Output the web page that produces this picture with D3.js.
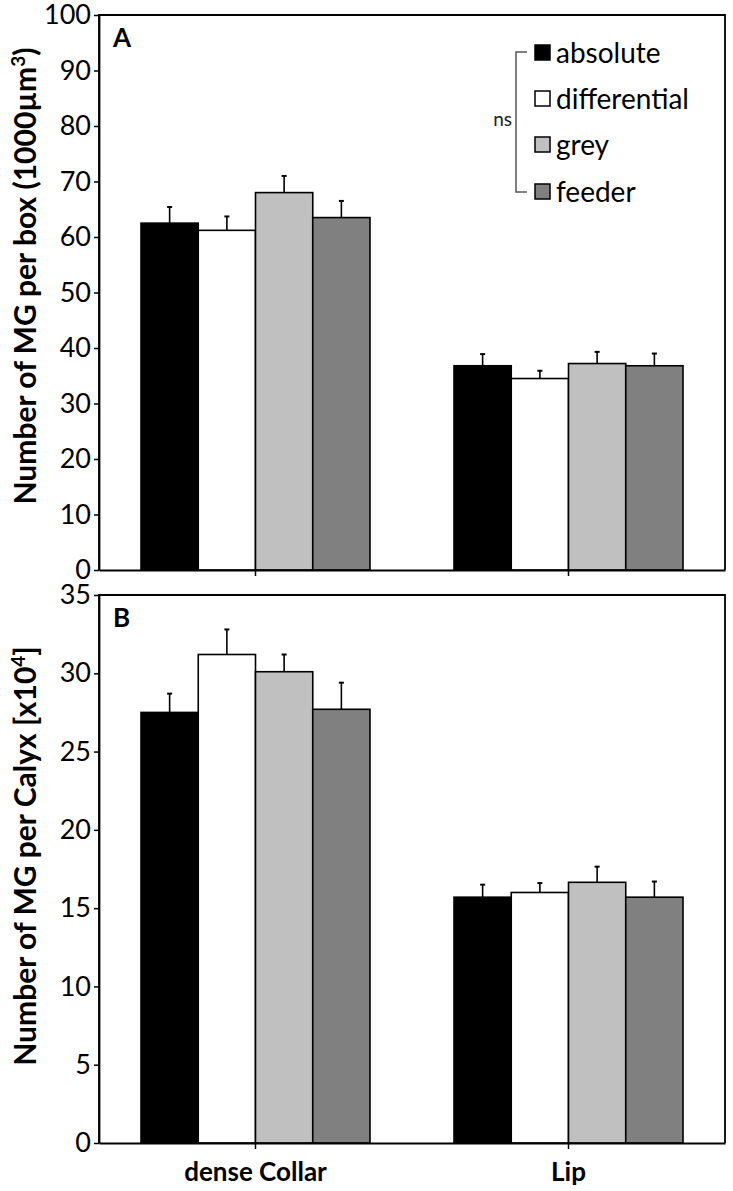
<!DOCTYPE html>
<html><head><meta charset="utf-8">
<script src="https://cdn.jsdelivr.net/npm/d3@7"></script>
<style>
body{margin:0;background:#fff;}
svg{display:block;font-family:Lato,"Open Sans",sans-serif;}
</style></head>
<body>
<svg id="c" width="733" height="1191"></svg>
<script>
const categories = ["dense Collar", "Lip"];
const series = ["absolute", "differential", "grey", "feeder"];
const seriesColors = ["#000000", "#ffffff", "#c0c0c0", "#808080"];
// Panel A: Number of MG per box (1000µm³)
const valuesA = [[62.5, 36.8], [61.2, 34.5], [68.0, 37.2], [63.5, 36.8]];
const errTopA = [[65.4, 38.9], [63.7, 35.9], [71.0, 39.3], [66.5, 39.0]];
// Panel B: Number of MG per Calyx [x10^4]
const valuesB = [[27.5, 15.7], [31.2, 16.0], [30.1, 16.65], [27.7, 15.7]];
const errTopB = [[28.7, 16.5], [32.8, 16.6], [31.2, 17.65], [29.4, 16.7]];
const ticksA = [0,10,20,30,40,50,60,70,80,90,100];
const ticksB = [0,5,10,15,20,25,30,35];

const svg = d3.select("#c");
const L = 99, R = 725;
const x0 = d3.scaleBand().domain(categories).range([L, R]).padding(0);
const groupW = 229;
const x1 = d3.scaleBand().domain(series).range([-groupW/2, groupW/2]).padding(0);
const color = d3.scaleOrdinal().domain(series).range(seriesColors);

function panel(cfg){
  const y = d3.scaleLinear().domain([0, cfg.max]).range([cfg.bottom, cfg.top]);
  const g = svg.append("g");
  series.forEach((s, si) => {
    categories.forEach((c, ci) => {
      const cx = x0(c) + x0.bandwidth()/2;
      const bx = cx + x1(s);
      const v = cfg.values[si][ci], e = cfg.err[si][ci];
      g.append("rect")
        .attr("x", bx).attr("y", y(v))
        .attr("width", x1.bandwidth()).attr("height", y(0) - y(v))
        .attr("fill", color(s)).attr("stroke", "#000").attr("stroke-width", 1.6);
      const mx = bx + x1.bandwidth()/2;
      g.append("line").attr("x1", mx).attr("x2", mx).attr("y1", y(v)).attr("y2", y(e))
        .attr("stroke", "#000").attr("stroke-width", 1.6);
      g.append("line").attr("x1", mx-2.5).attr("x2", mx+2.5).attr("y1", y(e)).attr("y2", y(e))
        .attr("stroke", "#000").attr("stroke-width", 2);
    });
  });
  g.append("path").attr("d", `M${L},${cfg.bottom}V${cfg.top}H${R}V${cfg.bottom}`)
    .attr("fill", "none").attr("stroke", "#000").attr("stroke-width", 1.8);
  const ya = g.append("g").attr("transform", `translate(${L},0)`)
    .call(d3.axisLeft(y).tickValues(cfg.ticks).tickSize(5).tickSizeOuter(0).tickPadding(3));
  ya.select(".domain").attr("stroke-width", 1.8);
  ya.selectAll(".tick line").attr("stroke-width", 1.5);
  ya.selectAll("text").attr("font-size", 27).attr("fill", "#000").attr("font-family", "Lato");
  const xa = g.append("g").attr("transform", `translate(0,${cfg.bottom})`)
    .call(d3.axisBottom(x0).tickSize(6).tickSizeOuter(0).tickPadding(14));
  xa.select(".domain").attr("stroke-width", 1.8);
  xa.selectAll(".tick line").attr("stroke-width", 1.5);
  xa.selectAll("text").attr("font-size", 26).attr("font-weight", "bold").attr("fill", "#000")
    .attr("font-family", "Lato").style("display", cfg.showX ? null : "none");
  g.append("text").attr("x", 113).attr("y", cfg.top + 32).attr("font-size", 26)
    .attr("font-weight", "bold").text(cfg.letter);
  const t = g.append("text")
    .attr("transform", `translate(36,${cfg.titleY}) rotate(-90)`)
    .attr("text-anchor", "middle").attr("font-size", 30).attr("font-weight", "bold");
  cfg.title(t);
  return y;
}

panel({top: 15, bottom: 570, max: 100, ticks: ticksA, values: valuesA, err: errTopA,
  letter: "A", showX: false, titleY: 276,
  title: t => { t.append("tspan").text("Number of MG per box (1000µm");
    t.append("tspan").attr("dy", -11).attr("font-size", 19).text("3");
    t.append("tspan").attr("dy", 11).text(")"); }});

panel({top: 595, bottom: 1143, max: 35, ticks: ticksB, values: valuesB, err: errTopB,
  letter: "B", showX: true, titleY: 856,
  title: t => { t.append("tspan").text("Number of MG per Calyx [x10");
    t.append("tspan").attr("dy", -11).attr("font-size", 19).text("4");
    t.append("tspan").attr("dy", 11).text("]"); }});

const lg = svg.append("g");
const rowY = [53, 99, 145, 192];
series.forEach((s, i) => {
  lg.append("rect").attr("x", 535).attr("y", rowY[i]-8).attr("width", 15).attr("height", 15)
    .attr("fill", color(s)).attr("stroke", "#000").attr("stroke-width", 1.5);
  lg.append("text").attr("x", 556).attr("y", rowY[i]+10).attr("font-size", 28).text(s);
});
lg.append("path").attr("d", `M527,${rowY[0]-1}H516V${rowY[3]}H527`)
  .attr("fill", "none").attr("stroke", "#555").attr("stroke-width", 1.5);
lg.append("text").attr("x", 512).attr("y", 126).attr("text-anchor", "end")
  .attr("font-size", 19).attr("fill", "#222").text("ns");
</script>
</body></html>
